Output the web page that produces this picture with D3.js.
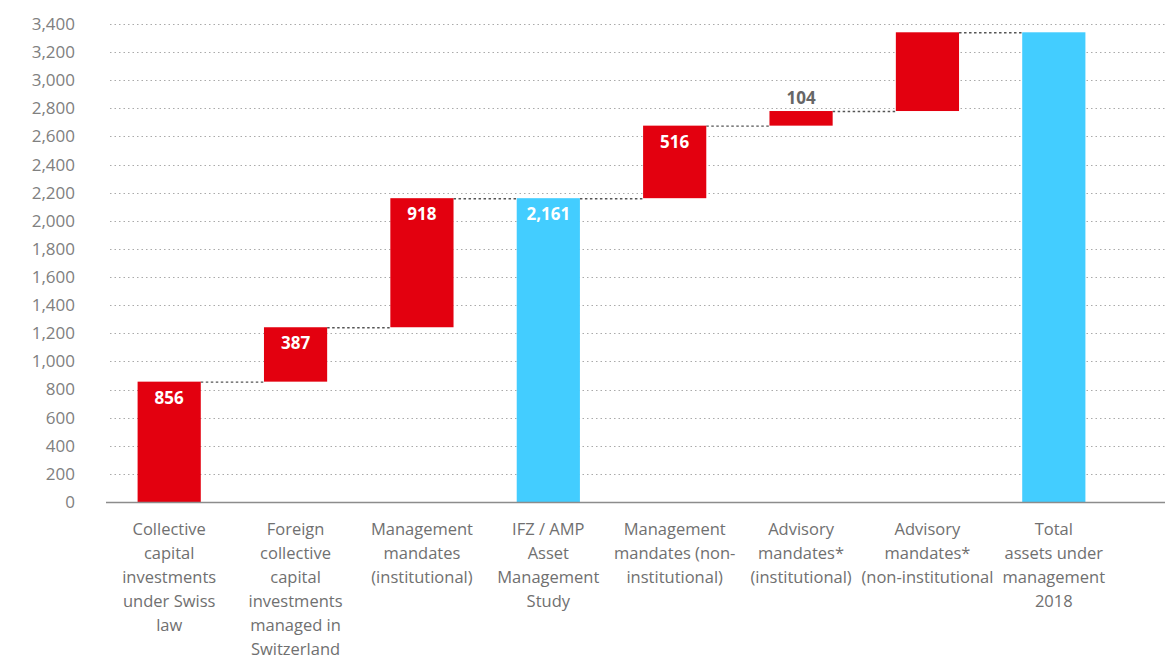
<!DOCTYPE html>
<meta charset="utf-8">
<title>Assets under management waterfall</title>
<style>
body {
  margin: 0;
  background: #fff;
}
text {
  font-family: "Open Sans", sans-serif;
}
.grid line {
  stroke: #aaa;
  stroke-width: 1px;
  stroke-dasharray: 1.5 3;
}
.conn {
  stroke: #555;
  stroke-width: 1.4px;
  stroke-dasharray: 2.5 2.5;
}
</style>
<svg></svg>
<script src="https://cdn.jsdelivr.net/npm/d3@7"></script>
<script>
// categories, one array per label line
var categories = [
  ["Collective", "capital", "investments", "under Swiss", "law"],
  ["Foreign", "collective", "capital", "investments", "managed in", "Switzerland"],
  ["Management", "mandates", "(institutional)"],
  ["IFZ / AMP", "Asset", "Management", "Study"],
  ["Management", "mandates (non-", "institutional)"],
  ["Advisory", "mandates*", "(institutional)"],
  ["Advisory", "mandates*", "(non-institutional"],
  ["Total", "assets under", "management", "2018"]
];
// step values (CHF bn); totals marked in isTotal
var values = [856, 387, 918, 2161, 516, 104, 560, 3341];
var isTotal = [false, false, false, true, false, false, false, true];
// value labels as printed (the 7th has none)
var valueLabels = ["856", "387", "918", "2,161", "516", "104", "", ""];
var yTicks = d3.range(0, 3401, 200);

var width = 1176, height = 657;
var margin = {top: 24, right: 11, bottom: 155, left: 106};

var svg = d3.select("svg")
    .attr("width", width)
    .attr("height", height);

// work out start / end of every step
var running = 0;
var bars = values.map(function(v, i) {
  var b;
  if (isTotal[i]) {
    b = {start: 0, end: v};
    running = v;
  } else {
    b = {start: running, end: running + v};
    running += v;
  }
  b.i = i;
  b.total = isTotal[i];
  b.label = valueLabels[i];
  return b;
});

var x = d3.scaleBand()
    .domain(d3.range(categories.length))
    .range([margin.left, 1117])
    .paddingInner(0.5)
    .paddingOuter(0.25);

var y = d3.scaleLinear()
    .domain([0, 3400])
    .range([502, margin.top]);

// gridlines
svg.append("g")
    .attr("class", "grid")
  .selectAll("line")
  .data(yTicks.slice(1))
  .enter().append("line")
    .attr("x1", margin.left + 4)
    .attr("x2", width - margin.right)
    .attr("y1", function(d) { return Math.round(y(d)) + 0.5; })
    .attr("y2", function(d) { return Math.round(y(d)) + 0.5; });

// y axis labels
var yAxis = svg.append("g")
    .attr("transform", "translate(" + 75 + ",0)")
    .call(d3.axisLeft(y).tickValues(yTicks).tickSize(0).tickPadding(0).tickFormat(d3.format(",")));
yAxis.select(".domain").remove();
yAxis.selectAll("text")
    .attr("fill", "#808080")
    .style("font-size", "17px")
    .style("font-family", "'Open Sans', sans-serif");

// connectors between steps
svg.append("g")
  .selectAll("line")
  .data(bars.slice(0, -1))
  .enter().append("line")
    .attr("class", "conn")
    .attr("x1", function(d) { return x(d.i) + x.bandwidth(); })
    .attr("x2", function(d) { return x(d.i + 1); })
    .attr("y1", function(d) { return y(d.end) + 0.5; })
    .attr("y2", function(d) { return y(d.end) + 0.5; });

// bars
svg.append("g")
  .selectAll("rect")
  .data(bars)
  .enter().append("rect")
    .attr("x", function(d) { return x(d.i); })
    .attr("width", x.bandwidth())
    .attr("y", function(d) { return y(d.end); })
    .attr("height", function(d) { return y(d.start) - y(d.end); })
    .attr("fill", function(d) { return d.total ? "#43cdff" : "#e3000f"; });

// baseline
svg.append("line")
    .attr("x1", margin.left)
    .attr("x2", width - margin.right)
    .attr("y1", y(0) + 0.5)
    .attr("y2", y(0) + 0.5)
    .attr("stroke", "#8c8c8c")
    .attr("stroke-width", 1.5);

// value labels: inside the bar when it is tall enough, above it otherwise
svg.append("g")
  .selectAll("text")
  .data(bars.filter(function(d) { return d.label; }))
  .enter().append("text")
    .attr("x", function(d) { return x(d.i) + x.bandwidth() / 2; })
    .attr("y", function(d) {
      return (y(d.start) - y(d.end) > 30) ? y(d.end) + 22 : y(d.end) - 7;
    })
    .attr("text-anchor", "middle")
    .attr("font-weight", "bold")
    .attr("font-size", "17px")
    .attr("fill", function(d) { return (y(d.start) - y(d.end) > 30) ? "#fff" : "#666"; })
    .text(function(d) { return d.label; });

// category labels
var cat = svg.append("g")
  .selectAll("text")
  .data(categories)
  .enter().append("text")
    .attr("x", function(d, i) { return x(i) + x.bandwidth() / 2; })
    .attr("y", 535)
    .attr("text-anchor", "middle")
    .attr("font-size", "16.5px")
    .attr("fill", "#707070");
cat.selectAll("tspan")
  .data(function(d) { return d; })
  .enter().append("tspan")
    .attr("x", function() { return d3.select(this.parentNode).attr("x"); })
    .attr("dy", function(d, j) { return j ? 24 : 0; })
    .text(function(d) { return d; });
</script>
